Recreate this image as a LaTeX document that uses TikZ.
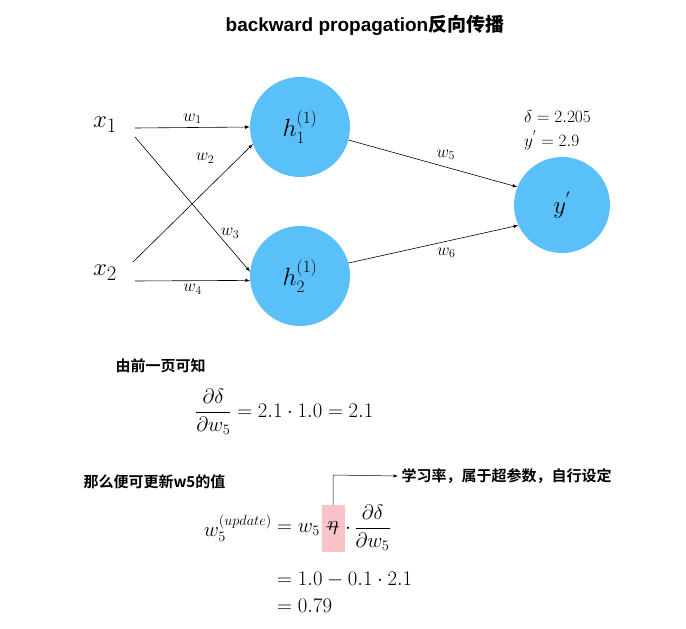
\documentclass[tikz,border=0pt]{standalone}
\usepackage{amsmath}
\usepackage{fontspec}
\setmainfont{Liberation Serif}
\newfontfamily\cjk{Noto Sans CJK SC Bold}
\newfontfamily\tsans{Liberation Sans}
\begin{document}
\begin{tikzpicture}[x=1pt,y=-1pt,
  neuron/.style={circle,fill=nblue,minimum size=100pt,inner sep=0pt,font=\fontsize{26}{28}\selectfont},
  conn/.style={-latex,line width=0.6pt},
  wlab/.style={font=\fontsize{18}{20}\selectfont},
  inp/.style={font=\fontsize{30}{32}\selectfont},
  cn/.style={font=\cjk\fontsize{15}{17}\selectfont},
  eq/.style={font=\fontsize{20}{24}\selectfont,inner sep=0pt}]
\definecolor{nblue}{RGB}{90,192,250}
\definecolor{pinkb}{RGB}{248,196,200}
\useasboundingbox (0,0) rectangle (686,629);
\node (title) at (365,25) {\fontsize{19}{22}\selectfont\tsans\bfseries backward propagation\cjk 反向传播};
\node[neuron] (h1) at (300,127) {$h_1^{(1)}$};
\node[neuron] (h2) at (300,276) {$h_2^{(1)}$};
\node[neuron,minimum size=96pt] (y) at (562,205) {$y^{'}$};
\node[inp] (x1) at (105,125) {$x_1$};
\node[inp] (x2) at (105,273) {$x_2$};
\coordinate (a1) at (135,128); \coordinate (a2) at (135,137);
\coordinate (b1) at (133,262); \coordinate (b2) at (135,281);
\draw[conn] (a1) -- (h1.180) node[wlab,midway,above] {$w_1$};
\draw[conn] (a2) -- (h2.175);
\draw[conn] (b1) -- (h1.200);
\draw[conn] (b2) -- (h2.185) node[wlab,midway,below] {$w_4$};
\node[wlab] (w2) at (205,158) {$w_2$};
\node[wlab] (w3) at (230,233) {$w_3$};
\draw[conn] (h1.-15) -- (y.158) node[wlab,pos=0.5,above right] {$w_5$};
\draw[conn] (h2.15) -- (y.205) node[wlab,pos=0.5,below right] {$w_6$};
\node[wlab,anchor=west,inner sep=0pt] (d) at (524,116) {$\delta = 2.205$};
\node[wlab,anchor=west,inner sep=0pt] (yv) at (524,140) {$y^{'} = 2.9$};
\node[cn,anchor=west] (t1) at (112,366) {由前一页可知};
\node[eq,anchor=west] (f1) at (195,412) {$\dfrac{\partial\delta}{\partial w_5} = 2.1\cdot 1.0 = 2.1$};
\node[cn,anchor=west] (t2) at (80,482) {那么便可更新w5的值};
\fill[pinkb] (322,505) rectangle (345,552);
\node[eq,anchor=east] (lhs) at (272,528) {$w_5^{(update)}$};
\node[eq,anchor=west] (rhs) at (277,528) {$= w_5 - {}$};
\node[eq] (eta) at (333,528) {$\eta$};
\node[eq,anchor=west] (rhs2) at (345,528) {$\cdot\,\dfrac{\partial\delta}{\partial w_5}$};
\node[eq,anchor=west] (l2) at (277,580) {$= 1.0 - 0.1\cdot 2.1$};
\node[eq,anchor=west] (l3) at (277,606) {$= 0.79$};
\coordinate (k) at (333,475);
\node[cn,anchor=west] (note) at (398,476) {学习率，属于超参数，自行设定};
\draw[-latex,line width=0.5pt] (333,505) -- (k) -- (note.west);
\end{tikzpicture}
\end{document}
